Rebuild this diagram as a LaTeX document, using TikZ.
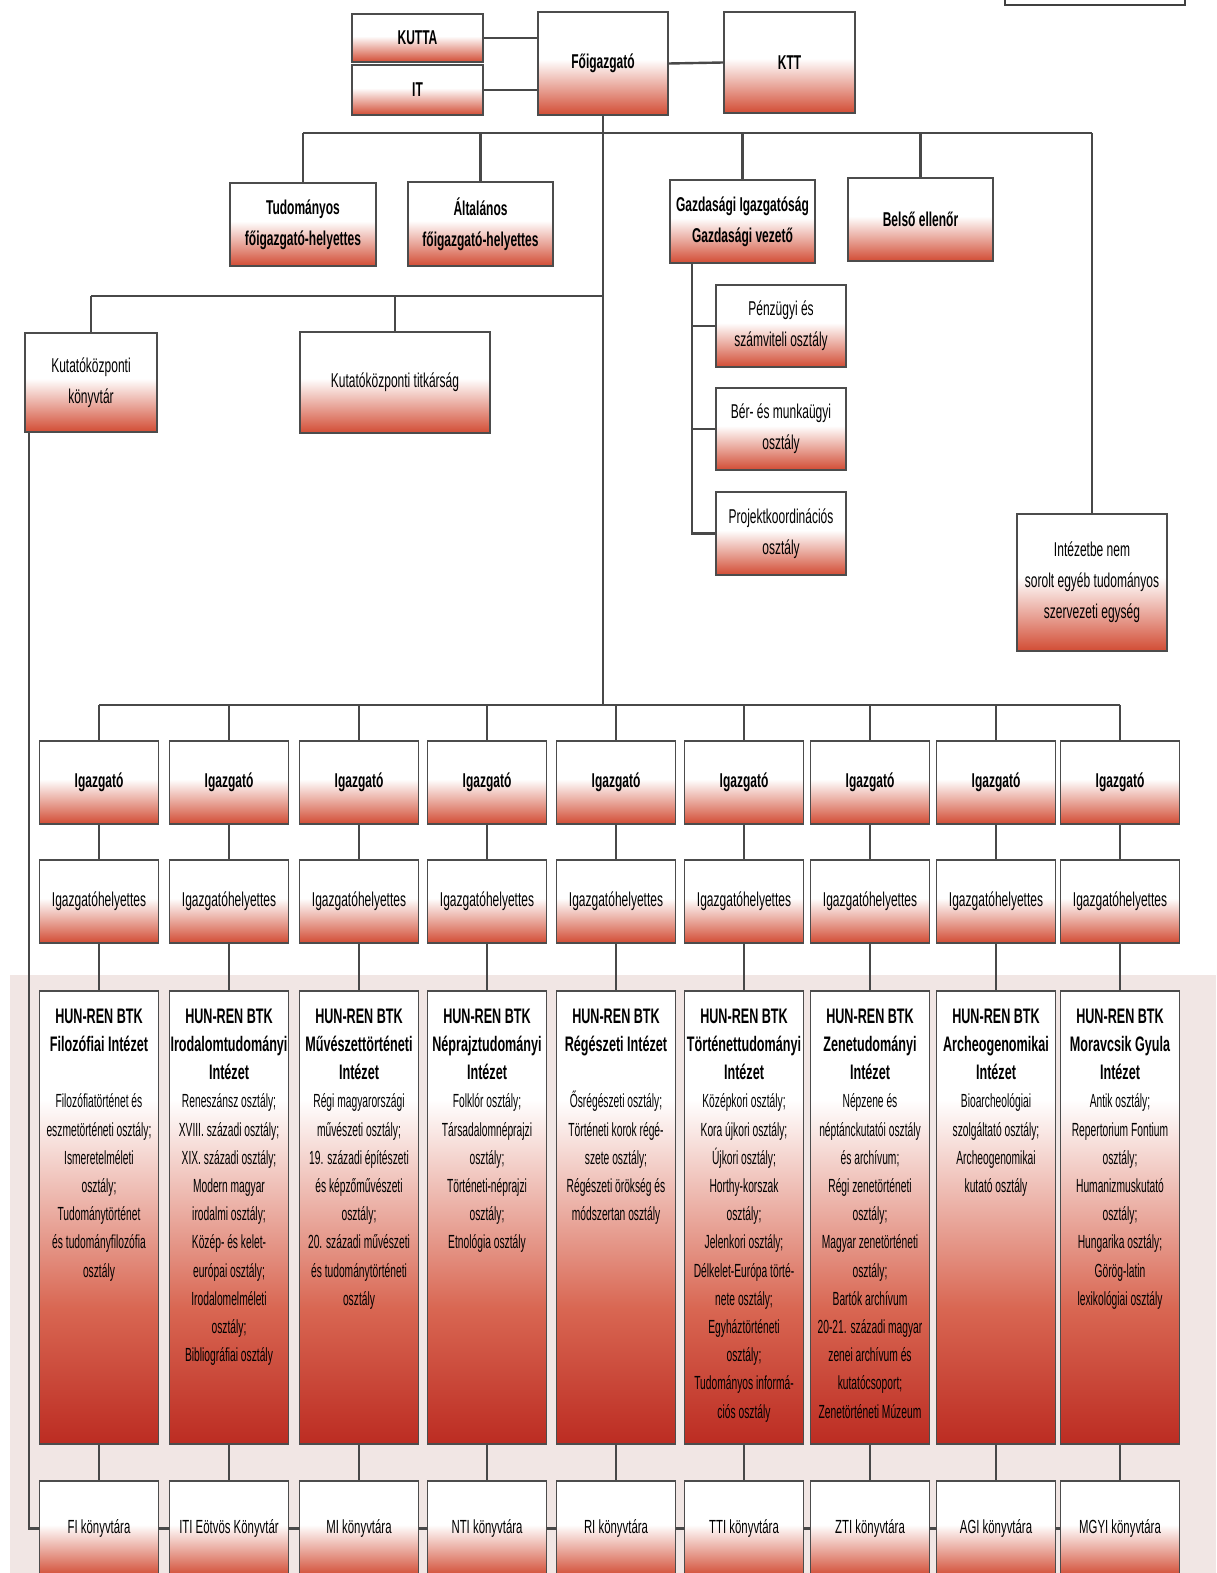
\documentclass[tikz,border=0pt]{standalone}
\usepackage{fontspec}
\setmainfont{Liberation Sans}
\newfontfamily\orgfont{Liberation Sans}[FakeStretch=0.6]
\newfontfamily\bodyfont{Liberation Sans}[FakeStretch=0.54]
\definecolor{boxred}{RGB}{210,76,52}
\definecolor{deepred}{RGB}{188,44,34}
\definecolor{bgpink}{RGB}{241,230,228}
\definecolor{linegray}{RGB}{72,72,72}
\pgfdeclareverticalshading{boxfade}{100bp}{color(0bp)=(boxred); color(25bp)=(boxred); color(37bp)=(boxred!55!white); color(52bp)=(white); color(100bp)=(white)}
\pgfdeclareverticalshading{instfade}{100bp}{color(0bp)=(deepred); color(25bp)=(deepred); color(40bp)=(boxred!85!white); color(55bp)=(boxred!30!white); color(63bp)=(white); color(100bp)=(white)}

\def\instwd{59.5pt}
\def\instht{226.5pt}

\begin{document}
\begin{tikzpicture}[x=0.5pt,y=-0.5pt,
    conn/.style={draw=linegray,line width=1.2pt},
    box/.style={draw=gray!60!black,line width=0.8pt,shade,shading=boxfade,align=center,inner sep=1pt,
                font=\orgfont\bfseries\fontsize{10}{15.5}\selectfont},
    plain/.style={box,font=\orgfont\fontsize{10}{15.5}\selectfont},
    inst/.style={draw=gray!60!black,line width=0.8pt,shade,shading=instfade,anchor=north,inner sep=0pt},
    lib/.style={plain,font=\orgfont\fontsize{9.5}{12}\selectfont,minimum width=59.5pt,minimum height=47.5pt},
]
\useasboundingbox (0,0) rectangle (1216,1573);

% background of the institute block
\fill[bgpink] (10,975) rectangle (1216,1573);
\draw[line width=1.2pt,draw=gray!50!black] (1005,-20) rectangle (1185,5);

% top management
\node[box,minimum width=65.5pt,minimum height=24pt] (kutta) at (417.5,38) {KUTTA};
\node[box,minimum width=65.5pt,minimum height=25pt] (it) at (417.5,90) {IT};
\node[box,minimum width=65pt,minimum height=51.5pt] (fo) at (603,63.5) {Főigazgató};
\node[box,minimum width=65.5pt,minimum height=50.5pt] (ktt) at (789.5,62.5) {KTT};

\node[box,minimum width=73pt,minimum height=41.5pt] (tud) at (303,224.5) {Tudományos\\főigazgató-helyettes};
\node[box,minimum width=72.5pt,minimum height=42pt] (alt) at (480.5,224) {Általános\\főigazgató-helyettes};
\node[box,minimum width=72.5pt,minimum height=41.5pt] (gazd) at (742.5,221.5) {Gazdasági Igazgatóság\\Gazdasági vezető};
\node[box,minimum width=72.5pt,minimum height=41.5pt] (belso) at (920.5,219.5) {Belső ellenőr};
\node[plain,minimum width=75pt,minimum height=68.5pt] (inb) at (1092,582.5) {Intézetbe nem\\sorolt egyéb tudományos\\szervezeti egység};

\node[plain,minimum width=66pt,minimum height=49.5pt] (kkk) at (91,382.5) {Kutatóközponti\\könyvtár};
\node[plain,minimum width=95pt,minimum height=50.5pt] (kkt) at (395,382.5) {Kutatóközponti titkárság};

\node[plain,minimum width=65pt,minimum height=41pt] (pen) at (781,326) {Pénzügyi és\\számviteli osztály};
\node[plain,minimum width=65pt,minimum height=41pt] (ber) at (781,429) {Bér- és munkaügyi\\osztály};
\node[plain,minimum width=65pt,minimum height=41.5pt] (proj) at (781,533.5) {Projektkoordinációs\\osztály};

\coordinate (busA) at (603,133);
\coordinate (busB) at (603,296);
\coordinate (busC) at (603,705);

\draw[conn] (kutta.east) -- (kutta.east -| fo.west);
\draw[conn] (it.east) -- (it.east -| fo.west);
\draw[conn] (fo.east) -- (ktt.west);
\draw[conn] (fo.south) -- (busC);
\draw[conn] (tud.north |- busA) -- (inb.north |- busA);
\foreach \n in {tud,alt,gazd,belso,inb}
    \draw[conn] (\n.north |- busA) -- (\n.north);
\draw[conn] (kkk.north |- busB) -- (busB);
\draw[conn] (kkk.north |- busB) -- (kkk.north);
\draw[conn] (kkt.north |- busB) -- (kkt.north);
\draw[conn] ([xshift=-11.5pt]pen.west |- gazd.south) |- (proj.west);
\draw[conn] ([xshift=-11.5pt]pen.west) -- (pen.west);
\draw[conn] ([xshift=-11.5pt]ber.west) -- (ber.west);

% institutes
\foreach \c/\ttl/\bdy/\lbl [count=\i] in {
  99/{Filozófiai Intézet\\\mbox{}}/{Filozófiatörténet és\\eszmetörténeti osztály;\\Ismeretelméleti\\osztály;\\Tudománytörténet\\és tudományfilozófia\\osztály}/{FI könyvtára},
  229/{Irodalomtudományi\\Intézet}/{Reneszánsz osztály;\\XVIII. századi osztály;\\XIX. századi osztály;\\Modern magyar\\irodalmi osztály;\\Közép- és kelet-\\európai osztály;\\Irodalomelméleti\\osztály;\\Bibliográfiai osztály}/{ITI Eötvös Könyvtár},
  359/{Művészettörténeti\\Intézet}/{Régi magyarországi\\művészeti osztály;\\19. századi építészeti\\és képzőművészeti\\osztály;\\20. századi művészeti\\és tudománytörténeti\\osztály}/{MI könyvtára},
  487/{Néprajztudományi\\Intézet}/{Folklór osztály;\\Társadalomnéprajzi\\osztály;\\Történeti-néprajzi\\osztály;\\Etnológia osztály}/{NTI könyvtára},
  616/{Régészeti Intézet\\\mbox{}}/{Ősrégészeti osztály;\\Történeti korok régé-\\szete osztály;\\Régészeti örökség és\\módszertan osztály}/{RI könyvtára},
  744/{Történettudományi\\Intézet}/{Középkori osztály;\\Kora újkori osztály;\\Újkori osztály;\\Horthy-korszak\\osztály;\\Jelenkori osztály;\\Délkelet-Európa törté-\\nete osztály;\\Egyháztörténeti\\osztály;\\Tudományos informá-\\ciós osztály}/{TTI könyvtára},
  870/{Zenetudományi\\Intézet}/{Népzene és\\néptánckutatói osztály\\és archívum;\\Régi zenetörténeti\\osztály;\\Magyar zenetörténeti\\osztály;\\Bartók archívum\\20-21. századi magyar\\zenei archívum és\\kutatócsoport;\\Zenetörténeti Múzeum}/{ZTI könyvtára},
  996/{Archeogenomikai\\Intézet}/{Bioarcheológiai\\szolgáltató osztály;\\Archeogenomikai\\kutató osztály}/{AGI könyvtára},
  1120/{Moravcsik Gyula\\Intézet}/{Antik osztály;\\Repertorium Fontium\\osztály;\\Humanizmuskutató\\osztály;\\Hungarika osztály;\\Görög-latin\\lexikológiai osztály}/{MGYI könyvtára}}
{
  \node[box,minimum width=59.5pt,minimum height=41.5pt] (ig\i) at (\c,782.5) {Igazgató};
  \node[plain,minimum width=59.5pt,minimum height=41.5pt] (igh\i) at (\c,901.5) {Igazgatóhelyettes};
  \node[inst] (inst\i) at (\c,990) {\parbox[c][\instht][t]{\instwd}{\centering\vspace*{9pt}%
      {\orgfont\bfseries\fontsize{10.5}{14.1}\selectfont HUN-REN BTK\\\ttl\par}%
      {\bodyfont\fontsize{9.5}{14.1}\selectfont\bdy\par}}};
  \node[lib] (lib\i) at (\c,1528.5) {\lbl};
  \draw[conn] (ig\i.north |- busC) -- (ig\i.north);
  \draw[conn] (ig\i) -- (igh\i);
  \draw[conn] (igh\i) -- (inst\i);
  \draw[conn] (inst\i) -- (lib\i);
}
\draw[conn] (ig1.north |- busC) -- (ig9.north |- busC);

% libraries
\draw[conn] ([xshift=2.5pt]kkk.south west) |- (lib1.west);
\foreach \i [count=\j from 2] in {1,...,8}
    \draw[conn] (lib\i.east) -- (lib\j.west);

\end{tikzpicture}
\end{document}
